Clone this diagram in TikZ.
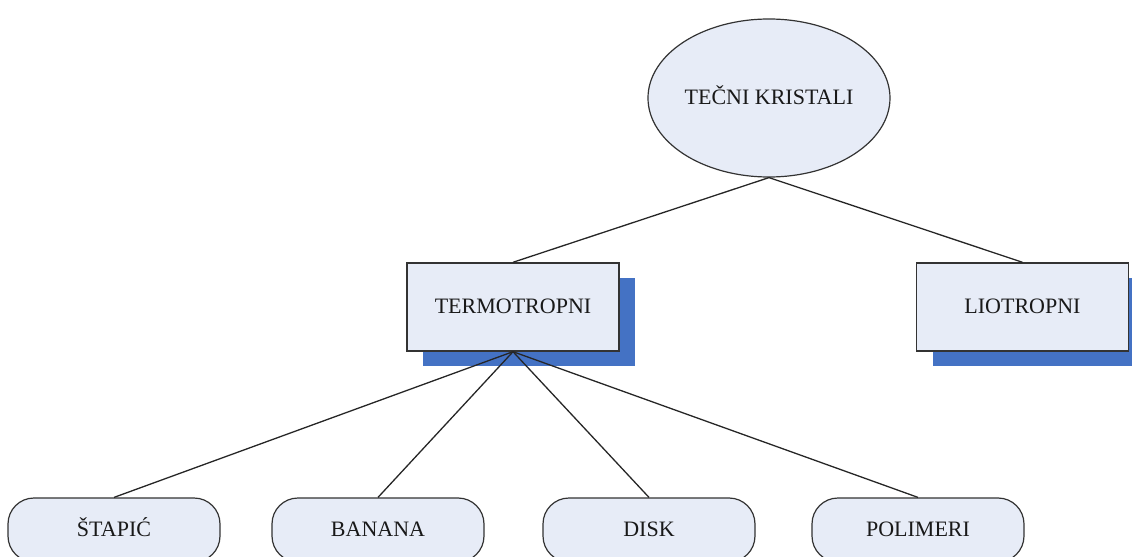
\documentclass[tikz,border=0pt]{standalone}
\usepackage{fontspec}
\setmainfont{Liberation Serif}
\usetikzlibrary{shapes.geometric,shadows}
\definecolor{boxfill}{RGB}{231,236,247}
\definecolor{shadowblue}{RGB}{68,114,196}
\tikzset{
	every node/.style={font=\fontsize{11}{13}\selectfont, text=black!90, text height=1.6ex, text depth=0.2ex},
	kristal/.style={ellipse, draw=black!80, line width=0.6pt, fill=boxfill, inner sep=0pt, minimum width=121pt, minimum height=79pt},
	grupa/.style={rectangle, draw=black!80, line width=0.7pt, fill=boxfill, inner sep=0pt, minimum width=106pt, minimum height=44pt,
		drop shadow={shadow xshift=8pt, shadow yshift=-7.5pt, fill=shadowblue, opacity=1}},
	vrsta/.style={rectangle, rounded corners=13pt, draw=black!80, line width=0.6pt, fill=boxfill, inner sep=0pt, minimum width=106pt, minimum height=32pt},
	veza/.style={draw=black!85, line width=0.65pt}
}

\begin{document}
\begin{tikzpicture}[x=0.5pt, y=-0.5pt]
			%%%%% START %%%%%
			
			\useasboundingbox (0, 0) rectangle (1132, 557);
			\clip (0, 0) rectangle (1132, 557);
			
			\node[kristal] (tecni) at (769, 98) {TEČNI KRISTALI};
			
			\node[grupa] (termo) at (513, 307) {TERMOTROPNI};
			\node[grupa] (lio) at (1022.5, 307) {LIOTROPNI};
			
			\node[vrsta] (stapic) at (114, 530) {ŠTAPIĆ};
			\node[vrsta] (banana) at (378, 530) {BANANA};
			\node[vrsta] (disk) at (649, 530) {DISK};
			\node[vrsta] (polimeri) at (918, 530) {POLIMERI};
			
			\draw[veza] (tecni.south) -- (termo.north);
			\draw[veza] (tecni.south) -- (lio.north);
			
			\draw[veza] (termo.south) -- (stapic.north);
			\draw[veza] (termo.south) -- (banana.north);
			\draw[veza] (termo.south) -- (disk.north);
			\draw[veza] (termo.south) -- (polimeri.north);
			
			%%%%% END %%%%%
		\end{tikzpicture}
\end{document}
